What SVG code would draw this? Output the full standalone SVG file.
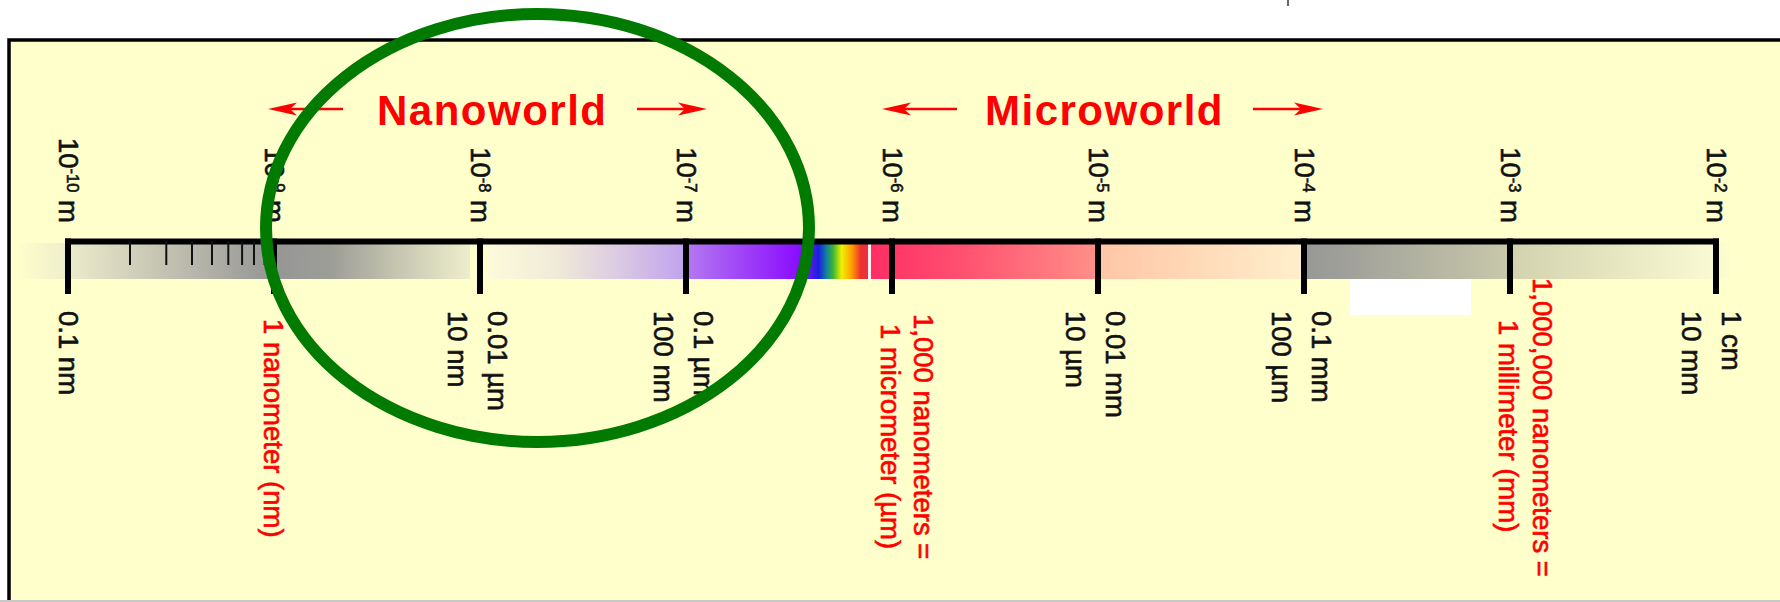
<svg xmlns="http://www.w3.org/2000/svg" width="1780" height="602" viewBox="0 0 1780 602">
<defs>
<style>
.lbl{font-family:"Liberation Sans",Arial,sans-serif;font-size:27.5px;fill:#111;stroke:#111;stroke-width:0.6px}
.red{fill:#ff0000;stroke:#ff0000}
.sup{font-size:16.5px}
.title{font-family:"Liberation Sans",Arial,sans-serif;font-size:42px;font-weight:bold;fill:#ff0000;letter-spacing:1.5px}
.arr{stroke:#ff0000;stroke-width:2.5;fill:none}
.head{fill:#ff0000}
.tick{fill:#000}
.mtick{fill:#111}
</style>
<linearGradient id="gA" gradientUnits="userSpaceOnUse" x1="20" y1="0" x2="68" y2="0"><stop offset="0" stop-color="#fdfdcc"/><stop offset="1" stop-color="#eeeecb"/></linearGradient>
<linearGradient id="gB" gradientUnits="userSpaceOnUse" x1="68" y1="0" x2="274" y2="0"><stop offset="0" stop-color="#ecebcb"/><stop offset="1" stop-color="#959595"/></linearGradient>
<linearGradient id="gC" gradientUnits="userSpaceOnUse" x1="274" y1="0" x2="470" y2="0"><stop offset="0" stop-color="#959595"/><stop offset="0.3" stop-color="#9e9e98"/><stop offset="0.65" stop-color="#c8c8b2"/><stop offset="1" stop-color="#eeeecc"/></linearGradient>
<linearGradient id="gD" gradientUnits="userSpaceOnUse" x1="488" y1="0" x2="686" y2="0"><stop offset="0" stop-color="#fcfbdb"/><stop offset="0.35" stop-color="#f0ead8"/><stop offset="0.65" stop-color="#dccbe2"/><stop offset="1" stop-color="#bfa2ee"/></linearGradient>
<linearGradient id="gE" gradientUnits="userSpaceOnUse" x1="686" y1="0" x2="868" y2="0"><stop offset="0" stop-color="#b47af0"/><stop offset="0.6" stop-color="#8c10ff"/><stop offset="0.68" stop-color="#5a1ae8"/><stop offset="0.73" stop-color="#1a20e0"/><stop offset="0.77" stop-color="#1080a0"/><stop offset="0.81" stop-color="#40b830"/><stop offset="0.855" stop-color="#f0f000"/><stop offset="0.91" stop-color="#ffa000"/><stop offset="0.96" stop-color="#ee3030"/><stop offset="1" stop-color="#e83040"/></linearGradient>
<linearGradient id="gF" gradientUnits="userSpaceOnUse" x1="871" y1="0" x2="1098" y2="0"><stop offset="0" stop-color="#ff2e64"/><stop offset="0.4" stop-color="#ff5070"/><stop offset="1" stop-color="#ff9088"/></linearGradient>
<linearGradient id="gG" gradientUnits="userSpaceOnUse" x1="1098" y1="0" x2="1304" y2="0"><stop offset="0" stop-color="#ffc6a6"/><stop offset="1" stop-color="#ffefcc"/></linearGradient>
<linearGradient id="gH" gradientUnits="userSpaceOnUse" x1="1304" y1="0" x2="1510" y2="0"><stop offset="0" stop-color="#969696"/><stop offset="1" stop-color="#c8c8aa"/></linearGradient>
<linearGradient id="gI" gradientUnits="userSpaceOnUse" x1="1510" y1="0" x2="1730" y2="0"><stop offset="0" stop-color="#d2d2ae"/><stop offset="0.9" stop-color="#f8f8d2"/><stop offset="1" stop-color="#fdfdcc"/></linearGradient>
</defs>

<rect x="0" y="0" width="1780" height="602" fill="#ffffff"/>
<line x1="1288" y1="0" x2="1288" y2="6" stroke="#333" stroke-width="1.5"/>

<g id="frame">
<rect x="9" y="40" width="1800" height="600" fill="#ffffcc" stroke="#000" stroke-width="3.5"/>
<line x1="0" y1="601" x2="1780" y2="601" stroke="#c8c8c8" stroke-width="2"/>
</g>

<g id="band">
<rect x="20" y="243" width="48" height="36" fill="url(#gA)"/>
<rect x="68" y="243" width="206" height="36" fill="url(#gB)"/>
<rect x="274" y="243" width="196" height="36" fill="url(#gC)"/>
<rect x="488" y="243" width="198" height="36" fill="url(#gD)"/>
<rect x="686" y="243" width="182" height="36" fill="url(#gE)"/>
<rect x="868" y="243" width="3" height="36" fill="#fff0f0"/>
<rect x="871" y="243" width="227" height="36" fill="url(#gF)"/>
<rect x="1098" y="243" width="206" height="36" fill="url(#gG)"/>
<rect x="1304" y="243" width="206" height="36" fill="url(#gH)"/>
<rect x="1510" y="243" width="220" height="36" fill="url(#gI)"/>
<rect x="1350" y="279" width="121" height="36" fill="#ffffff"/>
</g>

<g id="axis">
<rect x="65" y="238.5" width="1654" height="6" class="tick"/>
<rect x="65" y="238.5" width="6" height="55.5" class="tick"/>
<rect x="271" y="238.5" width="6" height="55.5" class="tick"/>
<rect x="477" y="238.5" width="6" height="55.5" class="tick"/>
<rect x="683" y="238.5" width="6" height="55.5" class="tick"/>
<rect x="889" y="238.5" width="6" height="55.5" class="tick"/>
<rect x="1095" y="238.5" width="6" height="55.5" class="tick"/>
<rect x="1301" y="238.5" width="6" height="55.5" class="tick"/>
<rect x="1507" y="238.5" width="6" height="55.5" class="tick"/>
<rect x="1713" y="238.5" width="6" height="55.5" class="tick"/>
<rect x="129" y="241" width="2" height="24" class="mtick"/>
<rect x="165.3" y="241" width="2" height="24" class="mtick"/>
<rect x="191" y="241" width="2" height="24" class="mtick"/>
<rect x="211" y="241" width="2" height="24" class="mtick"/>
<rect x="227.3" y="241" width="2" height="24" class="mtick"/>
<rect x="241.1" y="241" width="2" height="24" class="mtick"/>
<rect x="253" y="241" width="2" height="24" class="mtick"/>
<rect x="263.6" y="241" width="2" height="24" class="mtick"/>
</g>

<g id="top-labels">
<text class="lbl" text-anchor="end" transform="translate(59,223) rotate(90)">10<tspan class="sup" dy="-8">-10</tspan><tspan dy="8"> m</tspan></text>
<text class="lbl" text-anchor="end" transform="translate(265,223) rotate(90)">10<tspan class="sup" dy="-8">-9</tspan><tspan dy="8"> m</tspan></text>
<text class="lbl" text-anchor="end" transform="translate(471,223) rotate(90)">10<tspan class="sup" dy="-8">-8</tspan><tspan dy="8"> m</tspan></text>
<text class="lbl" text-anchor="end" transform="translate(677,223) rotate(90)">10<tspan class="sup" dy="-8">-7</tspan><tspan dy="8"> m</tspan></text>
<text class="lbl" text-anchor="end" transform="translate(883,223) rotate(90)">10<tspan class="sup" dy="-8">-6</tspan><tspan dy="8"> m</tspan></text>
<text class="lbl" text-anchor="end" transform="translate(1089,223) rotate(90)">10<tspan class="sup" dy="-8">-5</tspan><tspan dy="8"> m</tspan></text>
<text class="lbl" text-anchor="end" transform="translate(1295,223) rotate(90)">10<tspan class="sup" dy="-8">-4</tspan><tspan dy="8"> m</tspan></text>
<text class="lbl" text-anchor="end" transform="translate(1501,223) rotate(90)">10<tspan class="sup" dy="-8">-3</tspan><tspan dy="8"> m</tspan></text>
<text class="lbl" text-anchor="end" transform="translate(1707,223) rotate(90)">10<tspan class="sup" dy="-8">-2</tspan><tspan dy="8"> m</tspan></text>
</g>

<g id="bottom-labels">
<text class="lbl" transform="translate(59,311) rotate(90)">0.1 nm</text>
<text class="lbl red" transform="translate(264,319) rotate(90)">1 nanometer (nm)</text>
<text class="lbl" transform="translate(488,311) rotate(90)">0.01 µm<tspan x="0" dy="40">10 nm</tspan></text>
<text class="lbl" transform="translate(694,311) rotate(90)">0.1 µm<tspan x="0" dy="40">100 nm</tspan></text>
<text class="lbl red" transform="translate(914,314) rotate(90)">1,000 nanometers =<tspan x="10" dy="33">1 micrometer (µm)</tspan></text>
<text class="lbl" transform="translate(1106,311) rotate(90)">0.01 mm<tspan x="0" dy="40">10 µm</tspan></text>
<text class="lbl" transform="translate(1312,311) rotate(90)">0.1 mm<tspan x="0" dy="40">100 µm</tspan></text>
<text class="lbl red" transform="translate(1533,278) rotate(90)">1,000,000 nanometers =<tspan x="42" dy="34">1 millimeter (mm)</tspan></text>
<text class="lbl" transform="translate(1722,311) rotate(90)">1 cm<tspan x="0" dy="40">10 mm</tspan></text>
</g>

<g id="nanoworld">
<text class="title" x="377" y="125">Nanoworld</text>
<line class="arr" x1="285" y1="109" x2="343" y2="109"/>
<polygon class="head" points="268,109 297,102.5 290,109 297,115.5"/>
<line class="arr" x1="637" y1="109" x2="690" y2="109"/>
<polygon class="head" points="707,109 678,102.5 685,109 678,115.5"/>
</g>

<g id="microworld">
<text class="title" x="985" y="125">Microworld</text>
<line class="arr" x1="899" y1="109" x2="957" y2="109"/>
<polygon class="head" points="882,109 911,102.5 904,109 911,115.5"/>
<line class="arr" x1="1253" y1="109" x2="1306" y2="109"/>
<polygon class="head" points="1323,109 1294,102.5 1301,109 1294,115.5"/>
</g>

<g id="highlight">
<ellipse cx="537.5" cy="228" rx="271.5" ry="214" fill="none" stroke="#007a00" stroke-width="12"/>
</g>
</svg>
